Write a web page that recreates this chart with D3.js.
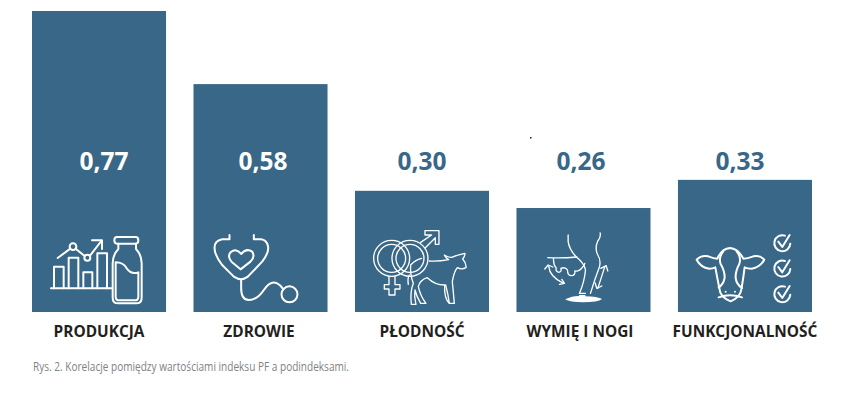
<!DOCTYPE html>
<html lang="pl">
<head>
<meta charset="utf-8">
<script src="https://cdn.jsdelivr.net/npm/d3@7"></script>
<style>
  html, body { margin: 0; padding: 0; background: #fff; }
  svg { display: block; }
  .cat text { font-family: "Open Sans", sans-serif; font-weight: 700; font-size: 15.4px; fill: #231f20; }
  .val { font-family: "Open Sans", sans-serif; font-weight: 700; font-size: 24.5px; text-anchor: middle; }
  .caption { font-family: "Liberation Sans Narrow", "Open Sans", sans-serif; font-size: 12.5px; fill: #808285; }
  .icon * { fill: none; stroke: #fff; stroke-width: 6; stroke-linecap: round; stroke-linejoin: round; }
  .icon .thin { stroke-width: 4; }
  .icon .solid { fill: #fff; stroke: none; }
</style>
</head>
<body>
<div id="chart"></div>
<script>
const width = 862;
const height = 395;

// --------------------------------------
// Data
// --------------------------------------

const categories = ["PRODUKCJA", "ZDROWIE", "PŁODNOŚĆ", "WYMIĘ I NOGI", "FUNKCJONALNOŚĆ"];
const valueLabels = ["0,77", "0,58", "0,30", "0,26", "0,33"];
// bar lengths as measured in the picture, they run a bit off the printed numbers
const barLengths = [0.77, 0.583, 0.31, 0.266, 0.338];
const labelInside = [true, true, false, false, false];
const caption = "Rys. 2. Korelacje pomiędzy wartościami indeksu PF a podindeksami.";

const barColor = "#386788";

// --------------------------------------
// Canvas and scales
// --------------------------------------

const svg = d3.select("#chart")
  .append("svg")
    .attr("width", width)
    .attr("height", height)
    .attr("viewBox", [0, 0, width, height]);

const x = d3.scaleBand()
  .domain(categories)
  .range([32, 812])
  .paddingInner(0.17);

const y = d3.scaleLinear()
  .domain([0, 0.77])
  .range([312, 11]);

// the numbers sit on their own even row, not quite over the bar centres
const xLabel = d3.scalePoint()
  .domain(categories)
  .range([104, 740]);

// --------------------------------------
// Bars
// --------------------------------------

svg.selectAll(".bar")
  .data(categories)
  .join("rect")
    .attr("class", "bar")
    .attr("x", d => x(d))
    .attr("y", (d, i) => y(barLengths[i]))
    .attr("width", x.bandwidth())
    .attr("height", (d, i) => y(0) - y(barLengths[i]))
    .attr("fill", barColor);

// --------------------------------------
// Value labels
// --------------------------------------

svg.selectAll(".val")
  .data(valueLabels)
  .join("text")
    .attr("class", "val")
    .attr("x", (d, i) => xLabel(categories[i]))
    .attr("y", 170)
    .attr("fill", (d, i) => labelInside[i] ? "#fff" : barColor)
    .text(d => d);

// --------------------------------------
// Category axis
// --------------------------------------

const axis = svg.append("g")
  .attr("class", "cat")
  .attr("transform", `translate(0, ${y(0)})`)
  .call(d3.axisBottom(x).tickSize(0).tickPadding(14));

axis.select(".domain").remove();
axis.selectAll("text")
  .attr("dy", "0.71em")
  .attr("dx", d => d === "WYMIĘ I NOGI" ? -3.5 : d === "ZDROWIE" ? -1.5 : 0);

// --------------------------------------
// Icons, drawn in 3x units from the bar's bottom left corner
// --------------------------------------

function icon(i) {
  return svg.append("g")
    .attr("class", "icon")
    .attr("transform", `translate(${x(categories[i])}, ${y(0)}) scale(${1 / 3})`);
}

function addPaths(g, paths, cls) {
  paths.forEach(p => g.append("path").attr("d", p).attr("class", cls || null));
}

// production: small bar chart and a milk bottle
const i0 = icon(0).append("g").attr("transform", "translate(-6, -261)");
addPaths(i0, [
  "M63 190H245",
  "M72 190V125H101V190",
  "M116 190V98H145V190",
  "M160 190V142H187V190",
  "M202 190V85H231V190",
  "M83 99L121 71",
  "M137 71L164 93",
  "M180 92L214 48",
  "M186 46H216V72",
  "M265 56V72Q248 90 248 115V218Q248 235 265 235H318Q335 235 335 218V115Q335 90 318 72V56",
  "M261 36H317Q325 36 325 46Q325 56 317 56H261Q253 56 253 46Q253 36 261 36Z",
  "M257 112Q280 112 290 130Q305 150 325 142V215Q325 226 314 226H268Q257 226 257 215Z"
]);
i0.append("circle").attr("cx", 129).attr("cy", 65).attr("r", 10);
i0.append("circle").attr("cx", 172).attr("cy", 98).attr("r", 9);

// health: stethoscope with a heart
const i1 = icon(1).append("g").attr("transform", "translate(-489, -261)");
addPaths(i1, [
  "M597 30V43H575Q552 48 552 68Q552 90 575 120L610 155Q632 170 652 155L695 110Q718 80 712 62Q708 45 692 43H670V30",
  "M632 165V190Q632 225 655 225Q680 225 700 195Q720 165 740 175Q752 181 758 192",
  "M630 133L603 110Q590 95 600 82Q618 68 632 87Q648 68 665 80Q675 95 660 110Z"
]);
i1.append("circle").attr("cx", 777).attr("cy", 208).attr("r", 24);

// fertility: gender signs and a calf
const i2 = icon(2).append("g").attr("transform", "translate(-15, -261)");
[[125, 100], [180, 100]].forEach(c => {
  i2.append("circle").attr("class", "thin").attr("cx", c[0]).attr("cy", c[1]).attr("r", 54);
  i2.append("circle").attr("class", "thin").attr("cx", c[0]).attr("cy", c[1]).attr("r", 42);
});
addPaths(i2, [
  "M117 155V179H103V192H117V210H135V192H150V179H135V155",
  "M212 52L245 30H225V17H267V58H256V38L226 68",
  "M238 108Q265 110 296 104Q286 98 283 90Q295 98 305 97Q322 90 345 85Q345 95 338 102Q350 115 348 128Q335 135 322 128Q312 140 307 170Q310 200 313 235H298Q295 210 287 180",
  "M298 235Q282 220 284 180Q255 180 232 158Q210 165 205 185Q212 215 228 235H212Q200 215 195 195Q192 215 198 238H184Q180 200 190 175Q180 150 182 120Q195 105 215 100",
  "M175 178Q172 160 178 150"
], "thin");

// udder and legs with arrows
const i3 = icon(3).append("g").attr("transform", "translate(-501, -261)");
addPaths(i3, [
  "M656 30V50Q660 75 680 95Q705 115 708 135Q705 170 690 205",
  "M752 24Q755 35 745 48Q735 70 745 90Q755 105 750 125Q735 165 723 205",
  "M595 98Q640 100 682 96",
  "M612 100Q612 122 620 128Q618 140 628 142Q638 140 634 130Q648 125 654 135Q654 152 666 152Q678 152 676 138Q690 140 698 128Q705 120 706 115",
  "M690 205H708",
  "M598 124Q600 155 642 175",
  "M586 132L596 120L610 126",
  "M630 178L645 175L637 163",
  "M766 125L745 190",
  "M754 130L770 122L775 138",
  "M737 174L742 190L757 183"
], "thin");
i3.append("path").attr("class", "solid").attr("d", "M647 223Q670 212 690 213L688 210H708L707 214Q745 215 758 222Q745 232 700 232Q660 232 647 223Z");

// functional: cow head and check marks
const i4 = icon(4).append("g").attr("transform", "translate(-24, -422)");
addPaths(i4, [
  "M80 265Q95 250 115 255Q132 262 142 262Q155 232 180 230Q205 232 220 262Q232 262 250 255Q270 250 283 265Q270 288 245 292Q232 292 224 288Q220 320 215 350Q212 378 182 390Q150 378 148 350Q142 320 136 288Q128 292 118 292Q92 288 80 265Z",
  "M160 240Q145 258 152 278Q165 300 164 320Q160 340 146 348",
  "M200 240Q215 258 208 278Q196 300 197 320Q200 340 216 350",
  "M146 378Q180 366 216 378"
]);
i4.append("circle").attr("class", "solid").attr("cx", 167).attr("cy", 361).attr("r", 3);
i4.append("circle").attr("class", "solid").attr("cx", 195).attr("cy", 361).attr("r", 3);
[215, 291, 368].forEach(cy => {
  const ck = i4.append("g").attr("transform", `translate(337, ${cy})`);
  addPaths(ck, [
    "M8 -22A24 24 0 1 0 24 2",
    "M-12 -4L0 12L22 -24"
  ]);
});

// --------------------------------------
// Caption and the stray dot in the scan
// --------------------------------------

svg.append("text")
  .attr("class", "caption")
  .attr("x", 33)
  .attr("y", 371)
  .attr("textLength", 316)
  .attr("lengthAdjust", "spacingAndGlyphs")
  .text(caption);

svg.append("rect")
  .attr("x", 530)
  .attr("y", 137)
  .attr("width", 1.5)
  .attr("height", 1.5)
  .attr("fill", "#222");
</script>
</body>
</html>
